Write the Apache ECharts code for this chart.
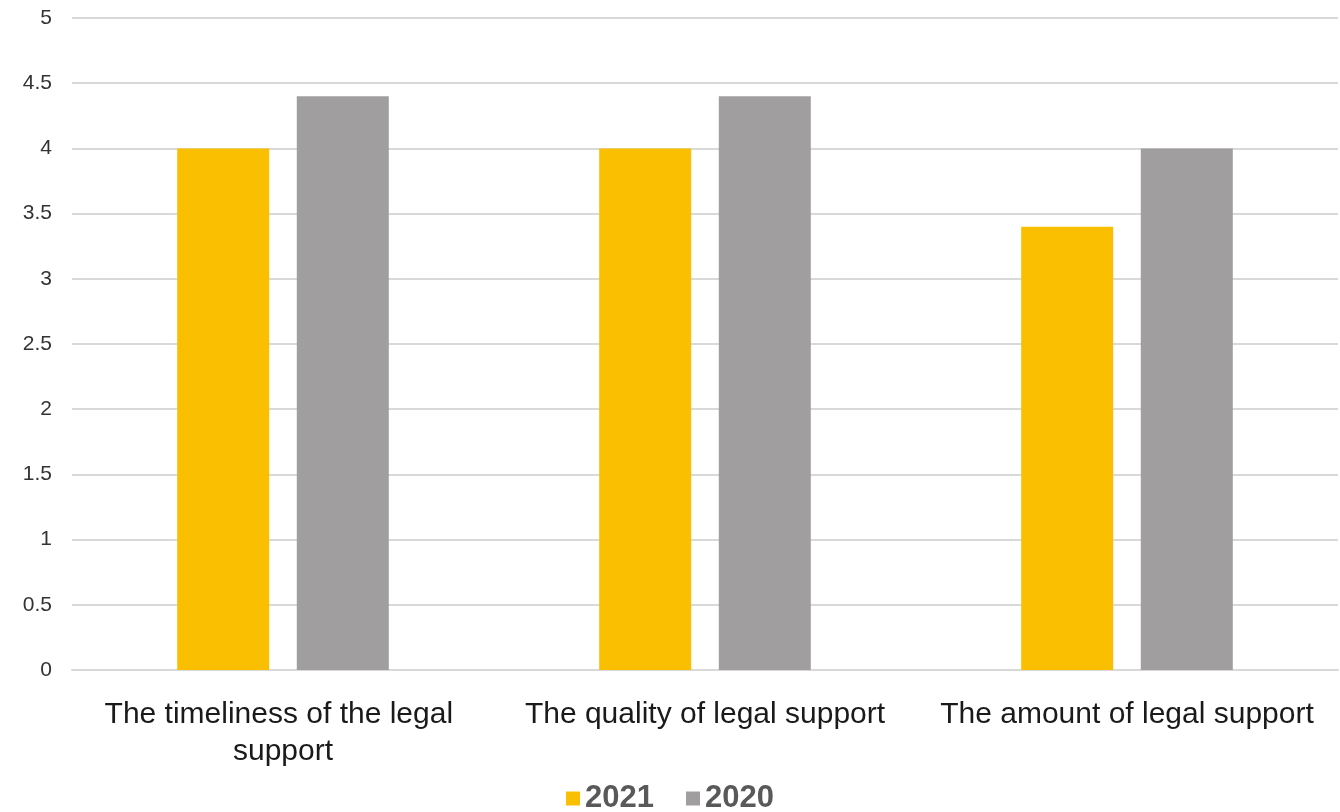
<!DOCTYPE html>
<html>
<head>
<meta charset="utf-8">
<script src="https://cdn.jsdelivr.net/npm/echarts@6/dist/echarts.min.js"></script>
<style>html,body{margin:0;padding:0;background:#fff;}#c{width:1340px;height:812px;}</style>
</head>
<body>
<div id="c"></div>
<script>
const categories = ["The timeliness of the legal support", "The quality of legal support", "The amount of legal support"];
const series2021 = [4, 4, 3.4];
const series2020 = [4.4, 4.4, 4];
const seriesNames = ["2021", "2020"];

const chart = echarts.init(document.getElementById('c'));
chart.setOption({
  animation: false,
  backgroundColor: '#fff',
  textStyle: { fontFamily: 'Liberation Sans, Arial, sans-serif' },
  grid: { left: 72, right: 2, top: 18, bottom: 142, containLabel: false },
  legend: {
    top: 778, left: 'center',
    itemWidth: 14, itemHeight: 14, itemGap: 32,
    icon: 'rect',
    textStyle: { fontSize: 31, fontWeight: 'bold', color: '#595959' },
    data: seriesNames
  },
  xAxis: {
    type: 'category',
    data: categories,
    axisLine: { show: true, lineStyle: { color: '#d9d9d9', width: 2 } },
    axisTick: { show: false },
    axisLabel: { fontSize: 30, color: '#1a1a1a', margin: 26, lineHeight: 37, width: 400, overflow: 'break', interval: 0 }
  },
  yAxis: {
    type: 'value', min: 0, max: 5, interval: 0.5,
    axisLine: { show: false }, axisTick: { show: false },
    axisLabel: { fontSize: 21, color: '#333', margin: 20 },
    splitLine: { lineStyle: { color: '#d9d9d9', width: 2 } }
  },
  series: [
    { name: seriesNames[0], type: 'bar', data: series2021, barWidth: 92, barGap: '30%', itemStyle: { color: '#FABF00' } },
    { name: seriesNames[1], type: 'bar', data: series2020, barWidth: 92, barGap: '30%', itemStyle: { color: '#A19E9F' } }
  ]
});
</script>
</body>
</html>
